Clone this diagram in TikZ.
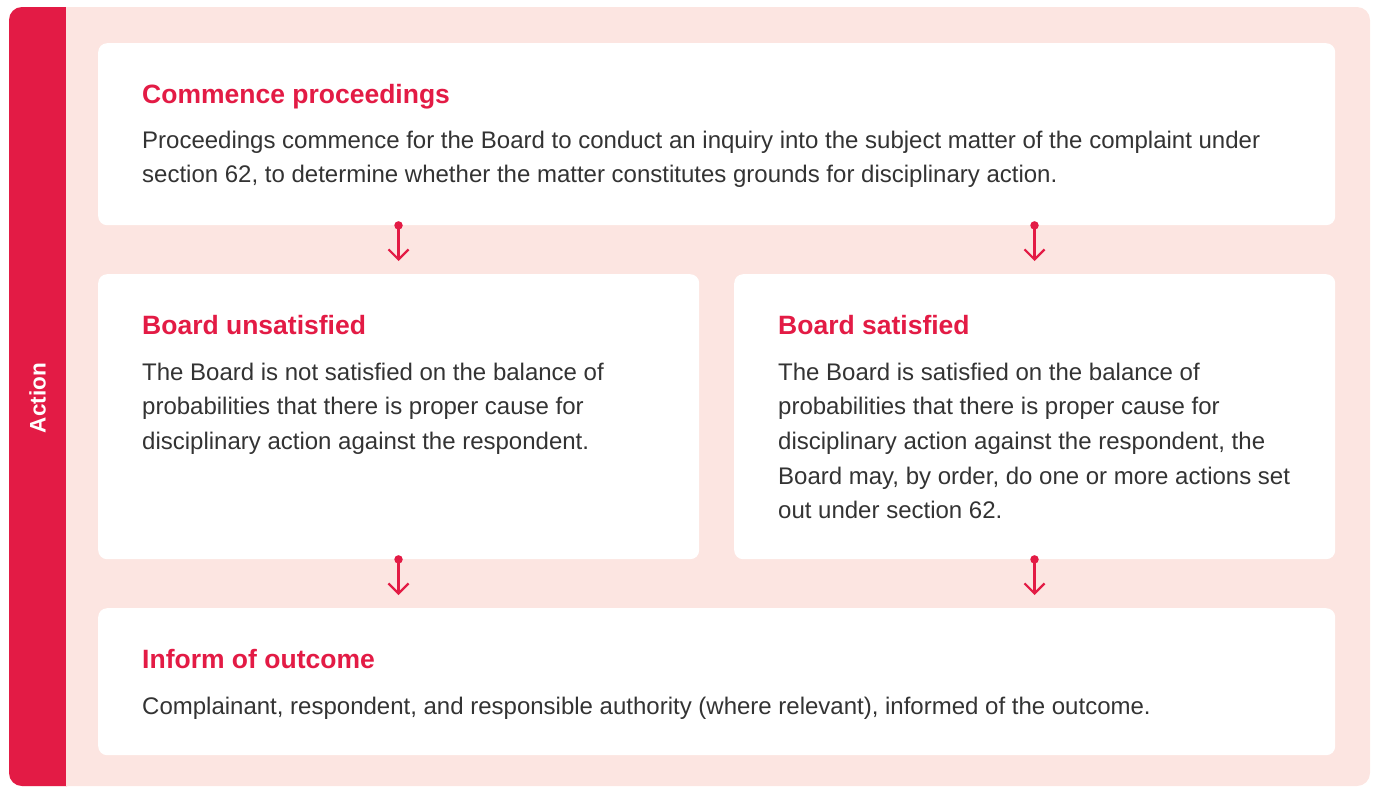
\documentclass[tikz,border=0pt]{standalone}
\usepackage{fontspec}
\setmainfont{Liberation Sans}
\usetikzlibrary{arrows.meta}
\definecolor{brand}{HTML}{E31B45}
\definecolor{panel}{HTML}{FCE5E1}
\definecolor{bodytext}{HTML}{333333}
\tikzset{
  x=1pt, y=1pt,
  box/.style={fill=white, draw=none, rounded corners=9pt, anchor=north west, inner sep=0pt},
  ttl/.style={anchor=base west, inner sep=0pt, text=brand, font=\fontsize{26.5}{30}\selectfont\bfseries},
  bod/.style={anchor=north west, inner sep=0pt, text=bodytext, align=left, font=\fontsize{24}{34.6}\selectfont},
  conn/.style={draw=brand, line width=2.2pt, -{Straight Barb[length=10pt, width=20pt, line width=2.2pt]}},
  dot/.style={circle, fill=brand, inner sep=0pt, minimum size=8.5pt},
}
\newcommand{\fl}{\rule{0pt}{18pt}}
\begin{document}
\begin{tikzpicture}
\useasboundingbox (0,0) rectangle (1376,-787);
% outer panel
\fill[panel, rounded corners=13pt] (9,-7) rectangle (1370,-786);
\fill[brand, rounded corners=13pt] (9,-7) rectangle (80,-786);
\fill[brand] (40,-7) rectangle (66,-786);
\fill[panel] (66,-7) rectangle (90,-786);
\fill[panel] (66,-20) rectangle (100,-773);
\node[rotate=90, text=white, font=\fontsize{22.5}{26}\selectfont\bfseries, inner sep=0pt] (lab) at (37.5,-398) {Action};
% boxes
\node[box, minimum width=1237pt, minimum height=182pt] (top) at (98,-43) {};
\node[box, minimum width=601pt, minimum height=285pt] (bl) at (98,-274) {};
\node[box, minimum width=601pt, minimum height=285pt] (br) at (734,-274) {};
\node[box, minimum width=1237pt, minimum height=147pt] (bot) at (98,-608) {};
% texts
\node[ttl] (t1) at (142,-103) {Commence proceedings};
\node[bod] (b1) at (142,-130) {\fl Proceedings commence for the Board to conduct an inquiry into the subject matter of the complaint under\\section 62, to determine whether the matter constitutes grounds for disciplinary action.};
\node[ttl] (t2) at (142,-334) {Board unsatisfied};
\node[bod] (b2) at (142,-362) {\fl The Board is not satisfied on the balance of\\probabilities that there is proper cause for\\disciplinary action against the respondent.};
\node[ttl] (t3) at (778,-334) {Board satisfied};
\node[bod] (b3) at (778,-362) {\fl The Board is satisfied on the balance of\\probabilities that there is proper cause for\\disciplinary action against the respondent, the\\Board may, by order, do one or more actions set\\out under section 62.};
\node[ttl] (t4) at (142,-668) {Inform of outcome};
\node[bod] (b4) at (142,-696) {\fl Complainant, respondent, and responsible authority (where relevant), informed of the outcome.};
% connectors
\coordinate (ca) at (398.5,0);
\coordinate (cb) at (1034.5,0);
\node[dot] (d1) at (top.south -| ca) {};
\node[dot] (d2) at (top.south -| cb) {};
\node[dot] (d3) at (bl.south -| ca) {};
\node[dot] (d4) at (br.south -| cb) {};
\coordinate (e1) at ([yshift=13pt]bl.north -| ca);
\coordinate (e2) at ([yshift=13pt]br.north -| cb);
\coordinate (e3) at ([yshift=13pt]bot.north -| ca);
\coordinate (e4) at ([yshift=13pt]bot.north -| cb);
\draw[conn] (d1.center) -- (e1);
\draw[conn] (d2.center) -- (e2);
\draw[conn] (d3.center) -- (e3);
\draw[conn] (d4.center) -- (e4);
\end{tikzpicture}
\end{document}
